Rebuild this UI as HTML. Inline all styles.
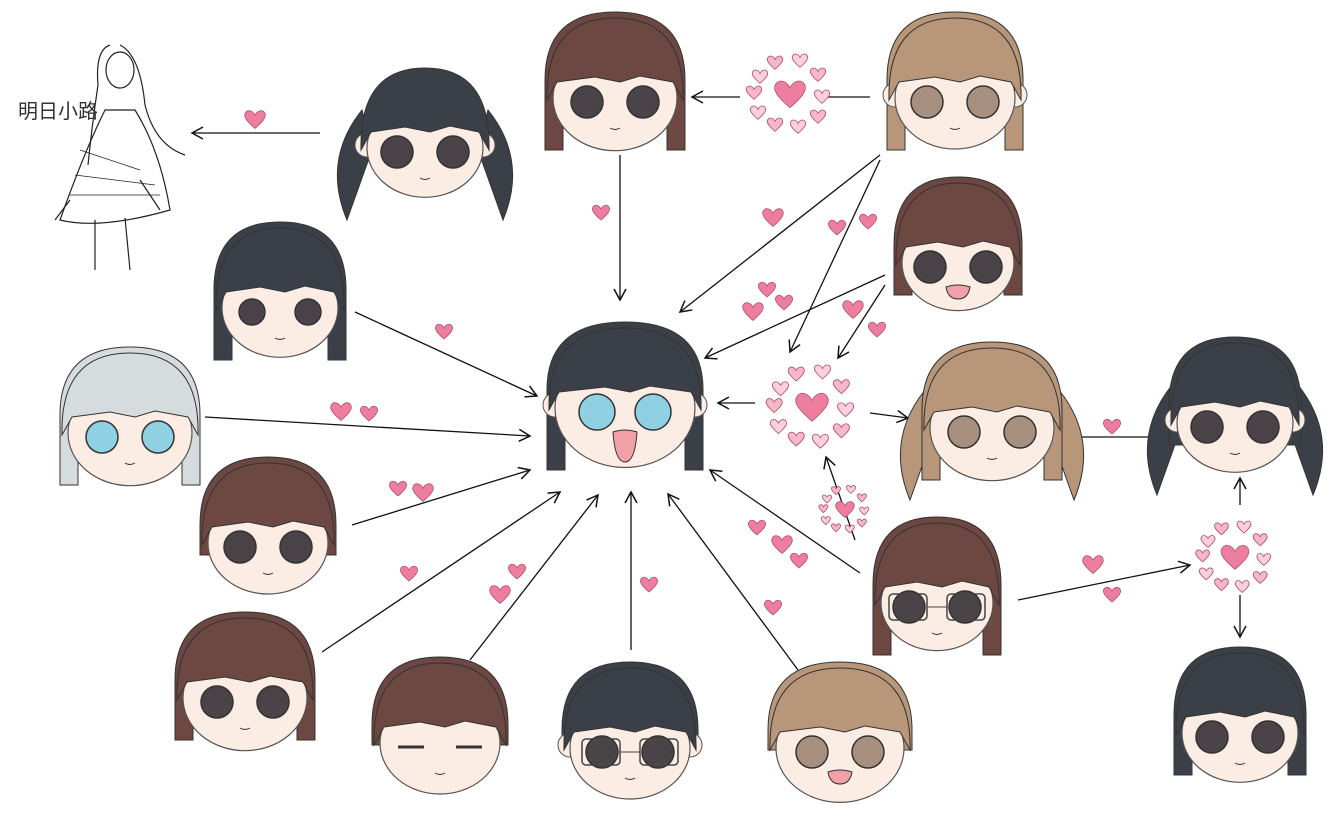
<!DOCTYPE html>
<html><head><meta charset="utf-8">
<style>
html,body{margin:0;padding:0;background:#fff;width:1339px;height:824px;overflow:hidden}
svg{display:block}
</style></head>
<body>
<svg id="s" width="1339" height="824" viewBox="0 0 1339 824" xmlns="http://www.w3.org/2000/svg">
<defs>
<marker id="ar" markerWidth="14" markerHeight="14" refX="12" refY="7" orient="auto" markerUnits="userSpaceOnUse">
<path d="M1,1 L12,7 L1,13" fill="none" stroke="#111" stroke-width="1.5"/>
</marker>
</defs>
<g id="g"></g>
<text x="18" y="118" font-family="'Liberation Sans','Noto Sans CJK JP',sans-serif" font-size="20" fill="#333">明日小路</text>
</svg>
<script>
var g=document.getElementById('g'),out='';
var DARK='#3b4048',BROWN='#6d4741',LB='#b89679',SIL='#d6dbde',SKIN='#fcede4';
function face(cx,cy,hair,len,eye,o){o=o||{};var w=o.w||62;
 var s='';
 if(o.twin){s+='<path d="M'+(cx-w-5)+','+(cy-30)+' Q'+(cx-w-45)+','+(cy+20)+' '+(cx-w-20)+','+(cy+80)+' L'+(cx-w+5)+','+(cy+10)+'Z" fill="'+hair+'" stroke="#333"/>';
  s+='<path d="M'+(cx+w+5)+','+(cy-30)+' Q'+(cx+w+45)+','+(cy+20)+' '+(cx+w+20)+','+(cy+80)+' L'+(cx+w-5)+','+(cy+10)+'Z" fill="'+hair+'" stroke="#333"/>';}
 if(len>0)s+='<path d="M'+(cx-w-8)+','+(cy+len)+' L'+(cx-w-8)+','+(cy-10)+' Q'+(cx-w-8)+','+(cy-78)+' '+cx+','+(cy-78)+' Q'+(cx+w+8)+','+(cy-78)+' '+(cx+w+8)+','+(cy-10)+' L'+(cx+w+8)+','+(cy+len)+' L'+(cx+w-10)+','+(cy+len)+' L'+(cx+w-10)+','+cy+' L'+(cx-w+10)+','+cy+' L'+(cx-w+10)+','+(cy+len)+'Z" fill="'+hair+'" stroke="#333"/>';
 if(o.ears){s+='<circle cx="'+(cx-w)+'" cy="'+(cy+5)+'" r="12" fill="'+SKIN+'" stroke="#555"/><circle cx="'+(cx+w)+'" cy="'+(cy+5)+'" r="12" fill="'+SKIN+'" stroke="#555"/>';}
 s+='<ellipse cx="'+cx+'" cy="'+(cy+8)+'" rx="'+w+'" ry="'+(w*0.85)+'" fill="'+SKIN+'" stroke="#555" stroke-width="1.2"/>';
 var t=cy-72,b=cy-(o.bang||8);
 s+='<path d="M'+(cx-w-6)+','+(cy+10)+' Q'+(cx-w-8)+','+t+' '+cx+','+t+' Q'+(cx+w+8)+','+t+' '+(cx+w+6)+','+(cy+10)+' L'+(cx+w-4)+','+b+' L'+(cx+25)+','+(b-6)+' L'+(cx+5)+','+b+' L'+(cx-20)+','+(b-5)+' L'+(cx-w+4)+','+b+'Z" fill="'+hair+'" stroke="#333"/>';
 var er=o.er||16,ey=cy+12;
 if(o.closed){s+='<path d="M'+(cx-42)+','+ey+' h26 M'+(cx+16)+','+ey+' h26" stroke="#333" stroke-width="3"/>';}
 else{s+='<circle cx="'+(cx-28)+'" cy="'+ey+'" r="'+er+'" fill="'+eye+'" stroke="#333" stroke-width="1.5"/><circle cx="'+(cx+28)+'" cy="'+ey+'" r="'+er+'" fill="'+eye+'" stroke="#333" stroke-width="1.5"/>';}
 if(o.glasses)s+='<rect x="'+(cx-48)+'" y="'+(ey-13)+'" width="38" height="26" rx="4" fill="none" stroke="#444" stroke-width="1.5"/><rect x="'+(cx+10)+'" y="'+(ey-13)+'" width="38" height="26" rx="4" fill="none" stroke="#444" stroke-width="1.5"/><path d="M'+(cx-10)+','+ey+' h20" stroke="#444"/>';
 if(o.open)s+='<path d="M'+(cx-12)+','+(cy+32)+' q12,-4 24,0 q-2,'+(o.big||18)+' -12,'+(o.big||18)+' q-10,0 -12,-'+(o.big||18)+'Z" fill="#f2a0a8" stroke="#333"/>';
 else s+='<path d="M'+(cx-5)+','+(cy+38)+' q5,3 10,0" stroke="#333" fill="none"/>';
 return s;}
function heart(x,y,k,c){k=k||1;c=c||'#ee7ea0';
 return '<path transform="translate('+x+','+y+') scale('+k+')" d="M0,7 C-7,1 -10,-3 -8,-6 C-6,-9 -2,-8 0,-4 C2,-8 6,-9 8,-6 C10,-3 7,1 0,7Z" fill="'+c+'" stroke="#b2506c" stroke-width="'+(0.8/k)+'"/>';}
function cluster(x,y,k){var s=heart(x,y,1.8*k),p=[[-30,-18],[-15,-32],[10,-34],[28,-20],[32,2],[28,22],[8,32],[-15,30],[-32,18],[-36,-2]];
 p.forEach(function(q,i){s+=heart(x+q[0]*k,y+q[1]*k,0.9*k,i%2?'#f6b7c8':'#fad0dc');});return s;}
function ar(x1,y1,x2,y2){return '<line x1="'+x1+'" y1="'+y1+'" x2="'+x2+'" y2="'+y2+'" stroke="#111" stroke-width="1.3" marker-end="url(#ar)"/>';}
out+='<g stroke="#222" fill="none" stroke-width="1.2"><path d="M110,45 q-15,5 -12,40 q-6,40 -10,80 M120,45 q20,10 25,60 q10,40 40,50"/><ellipse cx="120" cy="70" rx="14" ry="18"/><path d="M105,110 q-20,40 -45,110 q40,10 110,-10 q-10,-60 -35,-100Z"/><path d="M95,220 l0,50 M125,218 l5,52 M70,200 l-15,20 M140,180 l20,30"/><path d="M80,150 l60,20 M75,175 l80,10 M70,195 l90,0" stroke-width="0.8"/></g>';
[[320,133,192,133],[740,97,692,97],[620,155,620,300],[880,155,680,312],[880,160,790,352],[885,275,705,358],[885,285,838,358],[355,312,537,396],[205,417,530,436],[352,525,530,470],[322,652,560,492],[470,660,598,495],[631,650,631,492],[798,670,668,494],[860,573,710,470],[855,540,826,457],[755,403,718,403],[870,413,908,418],[1078,437,1165,437],[1240,505,1240,478],[1018,600,1190,565],[1240,595,1240,637]].forEach(function(a){out+=ar.apply(null,a);});
out+='<line x1="828" y1="97" x2="870" y2="97" stroke="#111" stroke-width="1.3"/>';
out+=face(425,140,DARK,0,'#4a4347',{twin:true,ears:true,w:58});
out+=face(615,90,BROWN,60,'#4a4347',{w:62});
out+=face(955,90,LB,60,'#a89080',{ears:true,w:60});
out+=face(280,300,DARK,60,'#4a4347',{w:58,er:13});
out+=face(958,255,BROWN,40,'#4a4347',{open:true,big:12,w:56});
out+=face(130,425,SIL,60,'#8fd0e2',{w:62});
out+=face(625,400,DARK,70,'#8fd0e2',{ears:true,open:true,big:30,w:70,er:18});
out+=face(992,420,LB,60,'#a89080',{twin:true,w:62});
out+=face(1235,415,DARK,30,'#4a4347',{twin:true,ears:true,w:58});
out+=face(268,535,BROWN,20,'#4a4347',{w:60});
out+=face(937,595,BROWN,60,'#4a4347',{glasses:true,w:56});
out+=face(245,690,BROWN,50,'#4a4347',{w:62});
out+=face(440,735,BROWN,10,'#4a4347',{closed:true,w:60});
out+=face(630,740,DARK,10,'#4a4347',{glasses:true,ears:true,w:60});
out+=face(840,740,LB,10,'#a89080',{open:true,big:12,w:64});
out+=face(1240,725,DARK,50,'#4a4347',{w:58});
out+=cluster(790,95,1);out+=cluster(812,408,1.05);out+=cluster(845,510,0.6);out+=cluster(1235,558,0.9);
[[255,120],[601,213],[444,332],[341,412],[369,414],[398,489],[423,493],[409,574],[517,572],[500,595],[649,585],[773,608],[773,218],[868,222],[837,228],[753,312],[784,303],[767,290],[853,310],[877,330],[757,528],[782,545],[799,561],[1112,427],[1093,565],[1112,595]].forEach(function(h,i){out+=heart(h[0],h[1],i%3?1:1.2);});
g.innerHTML=out;
</script>
</body></html>
